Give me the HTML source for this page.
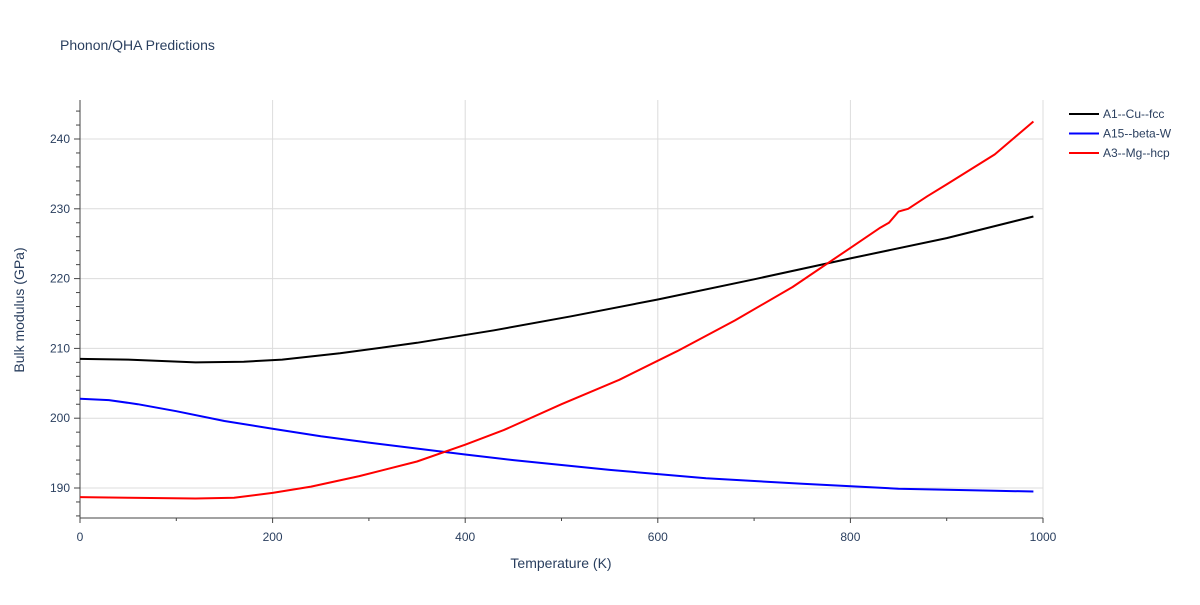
<!DOCTYPE html>
<html><head><meta charset="utf-8"><style>
body{margin:0;background:#fff;font-family:"Liberation Sans",sans-serif}
svg text{font-family:"Liberation Sans",sans-serif;fill:#2a3f5f}
</style></head><body>
<svg width="1200" height="600" xmlns="http://www.w3.org/2000/svg">
<rect width="1200" height="600" fill="#fff"/>
<text x="60" y="50" font-size="14">Phonon/QHA Predictions</text>
<g id="grid"></g><g id="axes"></g><g id="series"></g><g id="legend"></g>
<text x="561" y="568" font-size="14" text-anchor="middle">Temperature (K)</text>
<text transform="translate(24,310) rotate(-90)" font-size="14" text-anchor="middle">Bulk modulus (GPa)</text>
</svg>
<script>
const xTicks=[0,200,400,600,800,1000];
const yTicks=[190,200,210,220,230,240];
const seriesNames=["A1--Cu--fcc","A15--beta-W","A3--Mg--hcp"];
const seriesColors=["#000000","#0000ff","#ff0000"];
const cuT=[0,50,120,170,210,270,350,430,510,600,700,800,900,990];
const cuB=[208.5,208.4,208.0,208.1,208.4,209.3,210.8,212.6,214.6,217.0,219.9,222.9,225.8,228.9];
const wT=[0,30,60,100,150,200,250,300,400,450,550,650,750,850,950,990];
const wB=[202.8,202.6,202.0,201.0,199.6,198.5,197.4,196.5,194.8,194.0,192.6,191.4,190.6,189.9,189.6,189.5];
const mgT=[0,50,120,160,200,240,290,350,400,440,500,560,620,680,740,800,830,840,850,860,880,900,950,990];
const mgB=[188.7,188.6,188.5,188.6,189.3,190.2,191.7,193.8,196.2,198.3,202.0,205.5,209.6,214.0,218.8,224.4,227.2,228.0,229.6,230.0,231.8,233.5,237.8,242.5];
const X0=80,X1=1043,YB=518,YT=100;
const xs=v=>X0+(v-0)/1000*(X1-X0);
const ys=v=>488-(v-190)*(349/50);
const NS="http://www.w3.org/2000/svg";
function mk(tag,attrs,parent){const e=document.createElementNS(NS,tag);for(const k in attrs)e.setAttribute(k,attrs[k]);parent.appendChild(e);return e;}
const grid=document.getElementById('grid'),axes=document.getElementById('axes');
xTicks.forEach(t=>{
 const l=mk('line',{x1:xs(t),x2:xs(t),y1:YT,y2:YB,stroke:'#dcdcdc'},grid);
 
 
 const tx=mk('text',{x:xs(t),y:541,'font-size':12,'text-anchor':'middle'},axes);tx.textContent=t;
 
 
});
yTicks.forEach(t=>{
 const l=mk('line',{x1:X0,x2:X1,y1:ys(t),y2:ys(t),stroke:'#dcdcdc'},grid);
 
 
 const tx=mk('text',{x:70,y:ys(t)+4,'font-size':12,'text-anchor':'end'},axes);tx.textContent=t;
 
 
});
for(let v=186;v<=244;v+=2){const major=v%10===0;mk('line',{x1:major?74:76,x2:X0,y1:ys(v),y2:ys(v),stroke:'#444'},axes);}
for(let v=0;v<=1000;v+=100){mk('line',{x1:xs(v),x2:xs(v),y1:YB,y2:YB+(v%200===0?5:3),stroke:'#444'},axes);}
const ya=mk('line',{x1:X0,x2:X0,y1:YT,y2:YB,stroke:'#444'},axes);


const xa=mk('line',{x1:X0,x2:X1,y1:YB,y2:YB,stroke:'#444'},axes);


const ser=document.getElementById('series');
const data=[[cuT,cuB],[wT,wB],[mgT,mgB]];
data.forEach((d,i)=>{
 const pts=d[0].map((t,j)=>xs(t).toFixed(1)+','+ys(d[1][j]).toFixed(1)).join(' ');
 const p=mk('polyline',{points:pts,fill:'none',stroke:seriesColors[i],'stroke-width':2,'stroke-linejoin':'round'},ser);
 
 
});
const lg=document.getElementById('legend');
seriesNames.forEach((n,i)=>{
 const y=114+i*19.5;
 const g=mk('g',{},lg);
 
 
 mk('line',{x1:1069,x2:1099,y1:y,y2:y,stroke:seriesColors[i],'stroke-width':2},g);
 const t=mk('text',{x:1103,y:y+4,'font-size':12},g);t.textContent=n;
});
</script>
</body></html>
